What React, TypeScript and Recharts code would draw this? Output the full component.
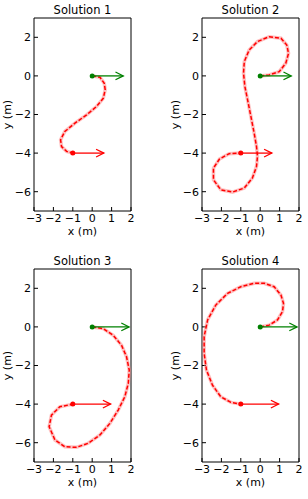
import { ScatterChart, Scatter, XAxis, YAxis, ReferenceArea } from "recharts";

const xTicks = [-3, -2, -1, 0, 1, 2];
const yTicks = [-6, -4, -2, 0, 2];
const titles = ["Solution 1", "Solution 2", "Solution 3", "Solution 4"];

// path of each solution
const sol1X = [0, 0.4, 0.62, 0.67, 0.57, 0.22, -0.29, -0.89, -1.41, -1.63, -1.58, -1.32, -1.0];
const sol1Y = [0, -0.07, -0.38, -0.72, -1.16, -1.59, -2.02, -2.45, -2.88, -3.31, -3.66, -3.91, -4.0];

const sol2X = [0, 0.46, 0.98, 1.32, 1.46, 1.37, 1.07, 0.46, -0.14, -0.57, -0.82, -0.86, -0.79, -0.65, -0.48, -0.31, -0.19, -0.14, -0.19, -0.4, -0.82, -1.43, -2.03, -2.41, -2.41, -2.1, -1.6, -1.0];
const sol2Y = [0, 0.05, 0.22, 0.66, 1.17, 1.6, 1.95, 2.03, 1.78, 1.34, 0.74, 0.14, -0.55, -1.24, -2.1, -2.97, -3.66, -4.17, -4.69, -5.29, -5.81, -6.02, -5.9, -5.38, -4.78, -4.31, -4.03, -4.0];

const sol3X = [0, 0.57, 1.08, 1.51, 1.77, 1.91, 1.86, 1.68, 1.34, 0.91, 0.4, -0.21, -0.81, -1.41, -1.92, -2.22, -2.1, -1.67, -1.0];
const sol3Y = [0, -0.09, -0.43, -0.95, -1.55, -2.24, -2.93, -3.62, -4.31, -5.0, -5.6, -6.03, -6.24, -6.21, -5.86, -5.17, -4.57, -4.14, -4.0];

const sol4X = [0, 0.46, 0.89, 1.15, 1.2, 1.07, 0.72, 0.21, -0.31, -1.0, -1.68, -2.29, -2.71, -2.89, -2.89, -2.77, -2.46, -2.03, -1.51, -1.0];
const sol4Y = [0, 0.09, 0.36, 0.79, 1.22, 1.65, 2.08, 2.26, 2.26, 2.08, 1.74, 1.13, 0.36, -0.5, -1.37, -2.24, -3.02, -3.62, -3.91, -4.0];

const startSpeed = [1.6, 1.6, 1.9, 1.9];
const endSpeed = [1.6, 1.6, 1.95, 1.95];
const startPos = { x: 0, y: 0 };
const endPos = { x: -1, y: -4 };

const curves = [
  [sol1X, sol1Y],
  [sol2X, sol2Y],
  [sol3X, sol3Y],
  [sol4X, sol4Y],
];

const places = [
  { left: 0, top: 0 },
  { left: 168, top: 0 },
  { left: 0, top: 251 },
  { left: 168, top: 251 },
];

const minus = (v) => String(v).replace("-", "\u2212");
const noShape = () => <g />;

function arrow(p, len) {
  const tip = p.x + len;
  return {
    shaft: [p, { x: tip, y: p.y }],
    head: [
      { x: tip - 0.4, y: p.y + 0.2 },
      { x: tip, y: p.y },
      { x: tip - 0.4, y: p.y - 0.2 },
    ],
  };
}

function Panel({ i }) {
  const [xs, ys] = curves[i];
  const path = xs.map((x, k) => ({ x, y: ys[k] }));
  const a0 = arrow(startPos, startSpeed[i]);
  const a1 = arrow(endPos, endSpeed[i]);
  const pl = places[i];
  return (
    <div style={{ position: "absolute", left: pl.left, top: pl.top, width: 154, height: 248 }}>
      <div
        style={{
          position: "absolute",
          left: 34,
          top: 3,
          width: 97,
          textAlign: "center",
          fontSize: 11.5,
          lineHeight: "14px",
        }}
      >
        {titles[i]}
      </div>
      <ScatterChart width={154} height={248} margin={{ top: 18, right: 23, left: 0, bottom: 0 }}>
        <XAxis
          type="number"
          dataKey="x"
          domain={[-3, 2]}
          ticks={xTicks}
          allowDataOverflow
          height={37}
          axisLine={false}
          tickSize={-4}
          tickMargin={7}
          tickLine={{ stroke: "#000" }}
          tick={{ fill: "#000", fontSize: 11 }}
          tickFormatter={minus}
          interval={0}
          label={{ value: "x (m)", position: "insideBottom", offset: 13, fill: "#000", fontSize: 11 }}
        />
        <XAxis
          xAxisId="top"
          orientation="top"
          type="number"
          domain={[-3, 2]}
          ticks={xTicks}
          height={0}
          axisLine={false}
          tickSize={-4}
          tickLine={{ stroke: "#000" }}
          tick={false}
        />
        <YAxis
          type="number"
          dataKey="y"
          domain={[-7, 3]}
          ticks={yTicks}
          allowDataOverflow
          width={34}
          axisLine={false}
          tickSize={-4}
          tickMargin={7}
          tickLine={{ stroke: "#000" }}
          tick={{ fill: "#000", fontSize: 11 }}
          tickFormatter={minus}
          interval={0}
          label={{
            value: "y (m)",
            angle: -90,
            position: "insideLeft",
            offset: 7,
            fill: "#000",
            fontSize: 11,
            style: { textAnchor: "middle" },
          }}
        />
        <YAxis
          yAxisId="right"
          orientation="right"
          type="number"
          domain={[-7, 3]}
          ticks={yTicks}
          width={0}
          axisLine={false}
          tickSize={-4}
          tickLine={{ stroke: "#000" }}
          tick={false}
        />
        <ReferenceArea x1={-3} x2={2} y1={-7} y2={3} fill="none" stroke="#000" strokeWidth={1} />
        <Scatter data={path} line={{ stroke: "#ff8080", strokeWidth: 3.5, strokeOpacity: 0.5 }} shape={noShape} isAnimationActive={false} />
        <Scatter data={path} line={{ stroke: "#ff0000", strokeWidth: 1.5, strokeDasharray: "4 2" }} shape={noShape} isAnimationActive={false} />
        <Scatter data={a0.shaft} line={{ stroke: "#008000", strokeWidth: 1.3 }} shape={noShape} isAnimationActive={false} />
        <Scatter data={a0.head} line={{ stroke: "#008000", strokeWidth: 1.3 }} shape={noShape} isAnimationActive={false} />
        <Scatter data={a1.shaft} line={{ stroke: "#ff0000", strokeWidth: 1.3 }} shape={noShape} isAnimationActive={false} />
        <Scatter data={a1.head} line={{ stroke: "#ff0000", strokeWidth: 1.3 }} shape={noShape} isAnimationActive={false} />
        <Scatter
          data={[startPos]}
          isAnimationActive={false}
          shape={(p) => <circle cx={p.cx} cy={p.cy} r={2.5} fill="#008000" />}
        />
        <Scatter
          data={[endPos]}
          isAnimationActive={false}
          shape={(p) => <circle cx={p.cx} cy={p.cy} r={2.5} fill="#ff0000" />}
        />
      </ScatterChart>
    </div>
  );
}

export default function App() {
  return (
    <div
      style={{
        position: "absolute",
        left: 0,
        top: 0,
        width: 308,
        height: 499,
        background: "#fff",
        fontFamily: "DejaVu Sans",
      }}
    >
      {[0, 1, 2, 3].map((i) => (
        <Panel key={i} i={i} />
      ))}
    </div>
  );
}
